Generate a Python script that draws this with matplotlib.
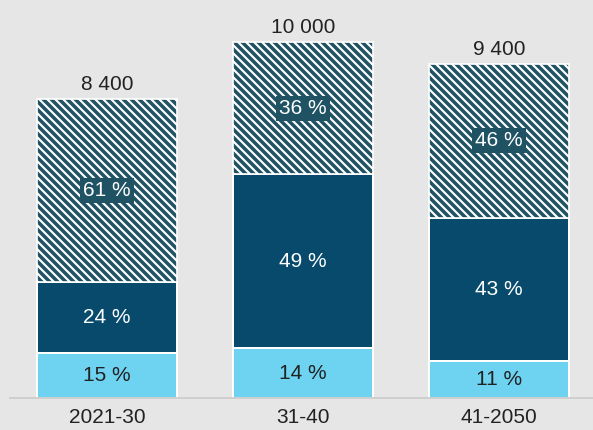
import matplotlib.pyplot as plt

periods = ["2021-30", "31-40", "41-2050"]
totals = [8400, 10000, 9400]
pct_light = [15, 14, 11]
pct_dark = [24, 49, 43]
pct_hatch = [61, 36, 46]

bg = "#e6e6e6"
c_light = "#6dd3f1"
c_dark = "#074a6c"
c_hatch = "#1f5262"

plt.rcParams['font.family'] = ['Liberation Sans', 'DejaVu Sans']
plt.rcParams['hatch.linewidth'] = 2.1

dpi = 120
fig = plt.figure(figsize=(593 / dpi, 430 / dpi), dpi=dpi, facecolor=bg)
ax = fig.add_axes([10 / 593, 32 / 430, 583 / 593, 398 / 430])
ax.set_facecolor(bg)

x = list(range(len(periods)))
w = 0.714
light = [t * p / 100 for t, p in zip(totals, pct_light)]
dark = [t * p / 100 for t, p in zip(totals, pct_dark)]
base2 = [a + b for a, b in zip(light, dark)]
hatch = [t - b for t, b in zip(totals, base2)]

ax.bar(x, light, w, color=c_light, edgecolor="white", linewidth=1.2)
ax.bar(x, dark, w, bottom=light, color=c_dark, edgecolor="white", linewidth=1.2)
ax.bar(x, hatch, w, bottom=base2, color="white", edgecolor=c_hatch,
       linewidth=0, hatch="\\" * 5)
ax.bar(x, hatch, w, bottom=base2, fill=False, edgecolor="white", linewidth=1.0)

fs = 12.5
for i in x:
    ax.text(i, light[i] / 2, f"{pct_light[i]} %", ha="center", va="center",
            fontsize=fs, color="#222222")
    ax.text(i, light[i] + dark[i] / 2, f"{pct_dark[i]} %", ha="center",
            va="center", fontsize=fs, color="white")
    ax.text(i, base2[i] + hatch[i] / 2, f"{pct_hatch[i]} %", ha="center",
            va="center", fontsize=fs, color="white",
            bbox=dict(boxstyle="square,pad=0.15", fc=c_hatch, ec="none"))
    ax.annotate(f"{totals[i]:,}".replace(",", " "), (i, totals[i]),
                xytext=(0, 3), textcoords="offset points", ha="center",
                va="bottom", fontsize=fs, color="#222222")

ax.set_xlim(-0.495, 2.48)
ax.set_ylim(0, 11195)
ax.set_xticks(x)
ax.set_xticklabels(periods, fontsize=fs, color="#222222")
ax.tick_params(axis="x", length=0, pad=6)
ax.set_yticks([])
for s in ["top", "right", "left"]:
    ax.spines[s].set_visible(False)
ax.spines["bottom"].set_color("#cfcfcf")
ax.spines["bottom"].set_linewidth(1.2)

fig.savefig("out.png", dpi=dpi, facecolor=bg)
